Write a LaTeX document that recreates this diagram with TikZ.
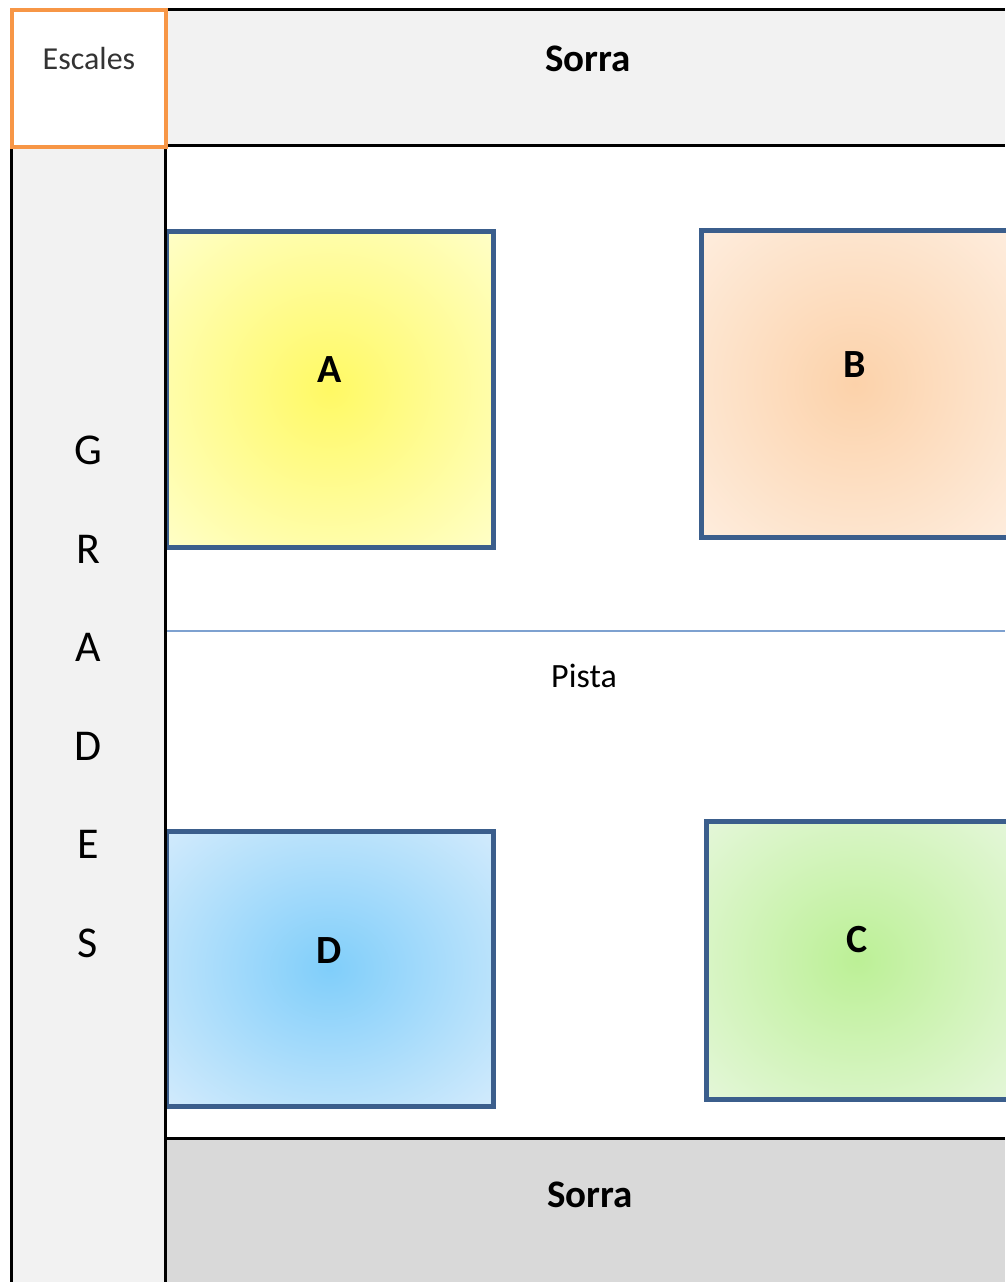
\documentclass[tikz,border=0pt]{standalone}
\usepackage{fontspec}
\setmainfont{Carlito}
\definecolor{grisclar}{HTML}{F2F2F2}
\definecolor{grisfosc}{HTML}{D9D9D9}
\definecolor{taronja}{HTML}{F79646}
\definecolor{vora}{HTML}{3B5E8C}
\definecolor{liniapista}{HTML}{7EA1D0}
\definecolor{zonaint}{HTML}{FFFFFF}
\definecolor{zonaext}{HTML}{FFFFFF}
\pgfdeclareradialshading[zonaint,zonaext]{zonashade}{\pgfpointorigin}{color(0bp)=(zonaint); color(37bp)=(zonaext); color(50bp)=(zonaext)}
\newcommand{\mida}[1]{\fontsize{#1}{#1}\selectfont}
\begin{document}
\begin{tikzpicture}
			[x=1pt,y=-1pt,
			marc/.style={line width=3pt,black},
			zona/.style={draw=vora,line width=5pt,inner sep=0pt},
			omple/.code 2 args={\definecolor{zonaint}{HTML}{#1}\definecolor{zonaext}{HTML}{#2}\tikzset{shading=zonashade}},
			lletrazona/.style={font=\mida{40}\bfseries},
			sorra/.style={font=\mida{39}\bfseries},
			grada/.style={font=\mida{44}}]
			\useasboundingbox (0,0) rectangle (1005,1282);
			\fill[grisclar] (166,9) rectangle (1005,145);
			\fill[grisclar] (11,147) rectangle (165,1282);
			\fill[grisfosc] (165,1138) rectangle (1005,1282);
			\draw[liniapista,line width=2.5pt] (166,631) -- (1005,631);
			\node[zona,minimum width=327pt,minimum height=316pt,omple={FFF964}{FFFFCC}] (zonaA) at (329.5,389) {};
			\node[zona,minimum width=308pt,minimum height=307pt,omple={FCD2AA}{FEEEE0}] (zonaB) at (855,384) {};
			\node[zona,minimum width=302pt,minimum height=278pt,omple={BCF096}{E6F7DC}] (zonaC) at (857,960) {};
			\node[zona,minimum width=327pt,minimum height=275pt,omple={80CEFA}{D6ECFC}] (zonaD) at (329.5,968.5) {};
			\node[lletrazona] (lletraA) at ([yshift=19pt]zonaA.center) {A};
			\node[lletrazona] (lletraB) at ([yshift=19pt]zonaB.center) {B};
			\node[lletrazona] (lletraC) at ([yshift=20pt]zonaC.center) {C};
			\node[lletrazona] (lletraD) at ([yshift=18pt]zonaD.center) {D};
			\draw[marc] (165,9) -- (1005,9);
			\draw[marc] (165,145) -- (1005,145);
			\draw[marc] (165,1138) -- (1005,1138);
			\draw[marc] (11,147) -- (11,1282);
			\draw[marc] (165,145) -- (165,1282);
			\draw[taronja,line width=3.5pt] (12,10) rectangle (166,147);
			\node[font=\mida{32},text=black!80] (escales) at (89,59) {Escales};
			\node[sorra] (sorradalt) at (588,59) {Sorra};
			\node[sorra] (sorrabaix) at (590,1195) {Sorra};
			\node[font=\mida{34}] (pista) at (584,676) {Pista};
			\foreach \lletra [count=\i] in {G,R,A,D,E,S}
				\node[grada] (grada\i) at (88,352+98.5*\i) {\lletra};
			\end{tikzpicture}
\end{document}
